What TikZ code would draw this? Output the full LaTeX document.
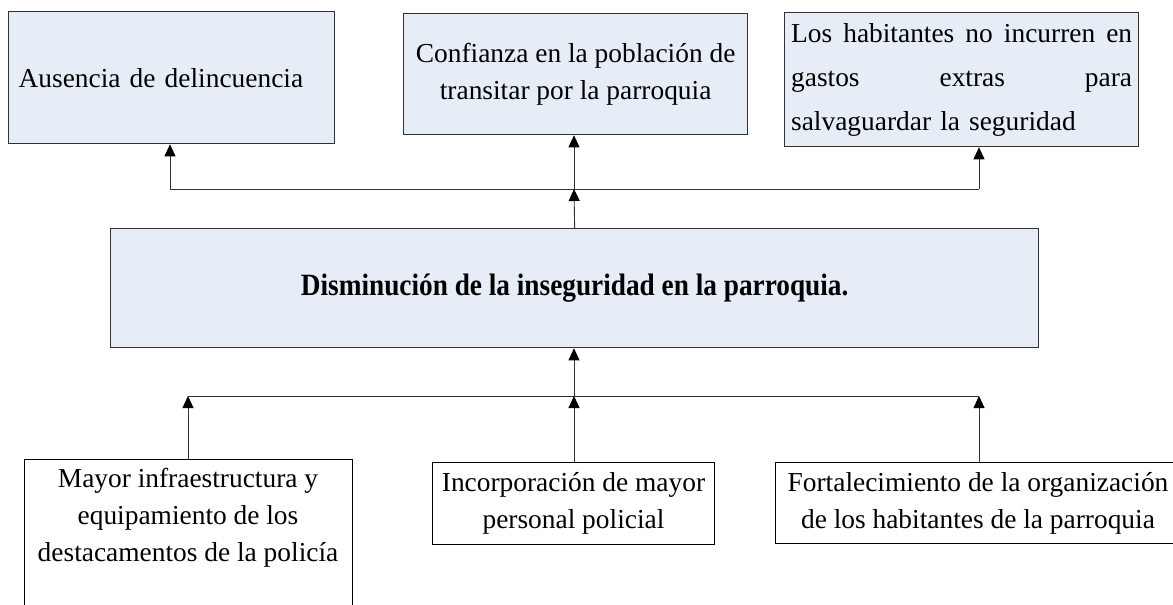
\documentclass[tikz,border=0pt]{standalone}
\usepackage{fontspec}
\usepackage{graphicx}
\setmainfont{Liberation Serif}
\usetikzlibrary{arrows.meta}
\definecolor{boxblue}{RGB}{230,237,247}
\definecolor{edge}{RGB}{50,50,50}
\begin{document}
\begin{tikzpicture}[x=1pt,y=-1pt,
  txt/.style={font=\fontsize{27.4}{37}\selectfont},
  bluebox/.style={txt, draw=edge, line width=1.3pt, fill=boxblue, inner sep=0pt, anchor=north west},
  whitebox/.style={txt, draw=black, line width=1pt, fill=white, inner sep=0pt, align=center},
  conn/.style={draw=edge, line width=0.9pt, -{Triangle[length=12pt,width=11pt,color=black]}},
  joinline/.style={draw=edge, line width=0.9pt}]
\useasboundingbox (0,0) rectangle (1173,605);
\clip (0,0) rectangle (1173,605);
% top boxes
\node[bluebox, minimum width=326pt, minimum height=132pt, inner xsep=10pt, text width=306pt, align=left] (A1) at (8,11) {Ausencia de delincuencia};
\node[bluebox, minimum width=344pt, minimum height=121pt, align=center] (A2) at (403,13) {Confianza en la población de\\transitar por la parroquia};
\node[bluebox, minimum width=354pt, minimum height=134pt, inner xsep=6.5pt, text width=341pt, align=left, font=\fontsize{27.4}{44}\selectfont] (A3) at (784,12) {\makebox[341pt][l]{Los\hfill habitantes\hfill no\hfill incurren\hfill en}\\\makebox[341pt][l]{gastos\hfill extras\hfill para}\\salvaguardar la seguridad};
% central box
\node[bluebox, minimum width=928pt, minimum height=119pt] (C) at (110,228) {\scalebox{0.88}[1]{\fontsize{31}{37}\selectfont\bfseries Disminución de la inseguridad en la parroquia.}};
% bottom boxes
\node[whitebox, anchor=north, minimum width=328pt, inner ysep=9pt, text depth=90pt] (B1) at (188,459) {Mayor infraestructura y\\equipamiento de los\\destacamentos de la policía};
\node[whitebox, anchor=north west, minimum width=282pt, minimum height=82pt] (B2) at (432,462) {Incorporación de mayor\\personal policial};
\node[whitebox, anchor=north west, minimum width=405pt, minimum height=81pt] (B3) at (775,462) {Fortalecimiento de la organización\\de los habitantes de la parroquia};
% junction coordinates
\coordinate (tj) at (574,189);
\coordinate (tl) at (170,189);
\coordinate (tr) at (979,189);
\coordinate (bj) at (574,396);
\coordinate (bl) at (188,396);
\coordinate (br) at (979,396);
% upper connectors
\draw[joinline] (tl) -- (tr);
\draw[conn] (C.north) -- (tj);
\draw[conn] (tl) -- (tl |- A1.south);
\draw[conn] (tj) -- (tj |- A2.south);
\draw[conn] (tr) -- (tr |- A3.south);
% lower connectors
\draw[joinline] (bl) -- (br);
\draw[conn] (B1.north) -- (bl);
\draw[conn] (bj |- B2.north) -- (bj);
\draw[conn] (br |- B3.north) -- (br);
\draw[conn] (bj) -- (bj |- C.south);
\end{tikzpicture}
\end{document}
